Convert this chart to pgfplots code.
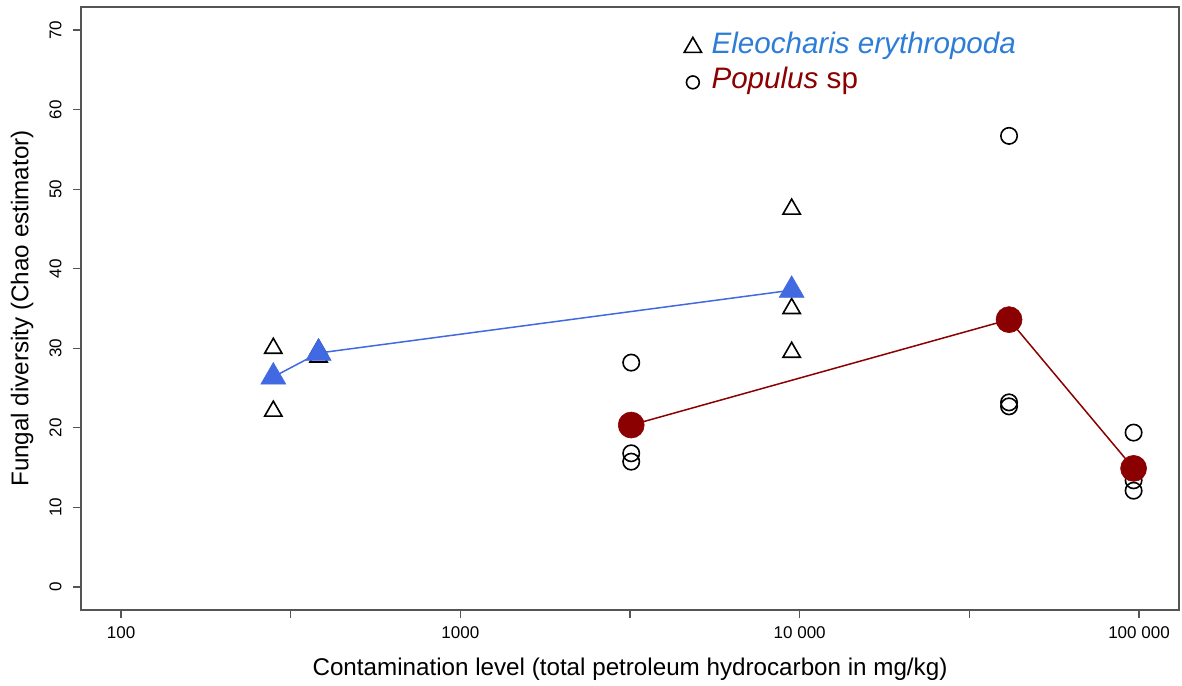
\documentclass[border=0pt]{standalone}
\usepackage{fontspec}
\setmainfont{Liberation Sans}
\usepackage{pgfplots}
\pgfplotsset{compat=1.18}
\definecolor{eleoblue}{RGB}{65,105,225}
\definecolor{eleotext}{RGB}{45,125,215}
\definecolor{popred}{RGB}{139,0,0}
\definecolor{axgray}{RGB}{85,85,85}

\begin{document}
\begin{tikzpicture}
\useasboundingbox (-40.5pt,-37.5pt) rectangle (550.5pt,305pt);
\begin{axis}[
  scale only axis, width=549pt, height=301.5pt,
  xmode=log, xmin=76.2, xmax=131200,
  ymin=-2.9, ymax=72.9,
  xtick={100,316.2,1000,3162,10000,31623,100000},
  xticklabels={100,,1000,,10 000,,100 000},
  minor xtick={},
  ytick={0,10,20,30,40,50,60,70},
  tick align=outside, tick pos=left,
  major tick length=4pt,
  axis line style={axgray, line width=0.8pt},
  tick style={axgray, line width=0.6pt},
  /pgf/number format/assume math mode=true,
  ticklabel style={font=\fontsize{8.5}{10}\selectfont},
  yticklabel style={rotate=90, anchor=south, inner sep=0pt, yshift=5.5pt},
  xticklabel style={anchor=north, inner sep=0pt, yshift=-4pt},
  label style={font=\fontsize{12.1}{14}\selectfont},
  xlabel={Contamination level (total petroleum hydrocarbon in mg/kg)},
  ylabel={Fungal diversity (Chao estimator)},
  xlabel style={at={(axis description cs:0.5,0)}, anchor=center, yshift=-29.5pt},
  ylabel style={at={(axis description cs:0,0.5)}, anchor=center, yshift=29.5pt},
  legend style={draw=none, fill=none, inner sep=0pt, column sep=3pt,
    at={(axis description cs:0.549,0.904)}, anchor=west,
    nodes={inner sep=2pt, text height=10pt, text depth=3.5pt},
    font=\fontsize{14.8}{17}\selectfont},
  legend cell align=left,
  legend image code/.code={\draw[#1] plot coordinates {(0pt,0pt)};},
]
\addlegendimage{only marks, mark=triangle, mark size=5pt, black, line width=0.8pt}
\addlegendentry{\textcolor{eleotext}{\textit{Eleocharis erythropoda}}}
\addlegendimage{only marks, mark=o, mark size=3.2pt, black, line width=0.8pt}
\addlegendentry{\textcolor{popred}{\textit{Populus} sp}}

% raw samples
\addplot[forget plot, only marks, mark=triangle, mark size=5pt, black, line width=0.8pt]
  coordinates {(281,30.0) (281,22.1) (382,29.8) (382,28.9) (9470,47.5) (9470,35.0) (9470,29.5)};
\addplot[forget plot, only marks, mark=o, mark size=4.1pt, black, line width=0.8pt]
  coordinates {(3188,28.2) (3188,16.8) (3188,15.75) (41400,56.7) (41400,23.2) (41400,22.7)
               (96400,19.4) (96400,13.4) (96400,12.1)};

% means
\addplot[forget plot, eleoblue, line width=0.75pt, mark=triangle*, mark size=7.2pt,
  mark options={fill=eleoblue, draw=eleoblue, line width=0.3pt}]
  coordinates {(281,26.4) (382,29.4) (9470,37.3)};
\addplot[forget plot, popred, line width=0.75pt, mark=*, mark size=6.5pt,
  mark options={fill=popred, draw=popred, line width=0.3pt}]
  coordinates {(3188,20.35) (41400,33.6) (96400,14.9)};
\end{axis}
\end{tikzpicture}
\end{document}
